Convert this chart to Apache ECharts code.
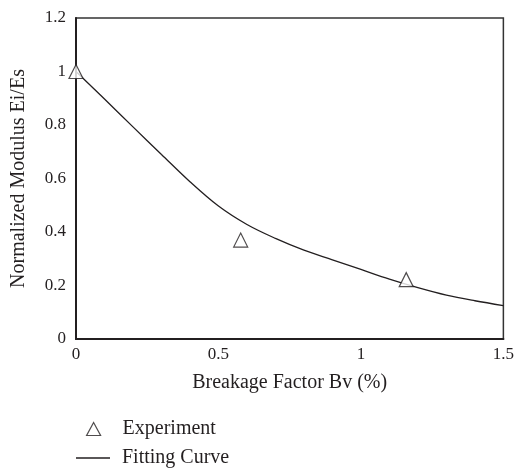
<!DOCTYPE html>
<html>
<head>
<meta charset="utf-8">
<script src="https://cdn.jsdelivr.net/npm/echarts@6/dist/echarts.min.js"></script>
<style>
  html, body { margin: 0; padding: 0; background: #fff; }
  #chart { width: 517px; height: 468px; }
</style>
</head>
<body>
<div id="chart"></div>
<script>
// Measured modulus ratio against particle breakage
const experimentBv = [0, 0.578, 1.159];
const experimentRatio = [1.0, 0.37, 0.222];

// Fitted relation
const curveBv = [0, 0.1, 0.2, 0.3, 0.4, 0.5, 0.6, 0.7, 0.8, 0.9, 1.0, 1.1, 1.2, 1.3, 1.4, 1.5];
const curveRatio = [1.0, 0.897, 0.793, 0.690, 0.588, 0.497, 0.428, 0.376, 0.332, 0.296, 0.260, 0.224, 0.192, 0.164, 0.143, 0.125];

const xTicks = { min: 0, max: 1.5, interval: 0.5 };
const yTicks = { min: 0, max: 1.2, interval: 0.2 };

const fontFamily = '"Liberation Serif", "DejaVu Serif", serif';
const ink = '#231f20';

const chart = echarts.init(document.getElementById('chart'), null, { renderer: 'canvas' });

const legendText = { fontFamily: fontFamily, fontSize: 20, color: ink };

chart.setOption({
  animation: false,
  backgroundColor: '#ffffff',
  textStyle: { fontFamily: fontFamily, color: ink },
  grid: { left: 76, right: 13, top: 18, bottom: 129, show: true, borderColor: '#333', borderWidth: 1.5, backgroundColor: 'transparent' },
  xAxis: {
    type: 'value',
    min: xTicks.min, max: xTicks.max, interval: xTicks.interval,
    name: 'Breakage Factor Bv (%)',
    nameLocation: 'middle',
    nameGap: 34,
    nameTextStyle: { fontFamily: fontFamily, fontSize: 20, color: ink },
    axisLine: { show: true, onZero: false, lineStyle: { color: ink, width: 2 } },
    axisTick: { show: false },
    splitLine: { show: false },
    axisLabel: { fontFamily: fontFamily, fontSize: 17, color: ink, margin: 7,
      formatter: v => String(+v.toFixed(1)) }
  },
  yAxis: {
    type: 'value',
    min: yTicks.min, max: yTicks.max, interval: yTicks.interval,
    name: 'Normalized Modulus Ei/Es',
    nameLocation: 'middle',
    nameGap: 47,
    nameTextStyle: { fontFamily: fontFamily, fontSize: 20, color: ink },
    axisLine: { show: true, onZero: false, lineStyle: { color: ink, width: 2 } },
    axisTick: { show: false },
    splitLine: { show: false },
    axisLabel: { fontFamily: fontFamily, fontSize: 17, color: ink, margin: 10,
      formatter: v => String(+v.toFixed(1)) }
  },
  legend: [
    {
      left: 86,
      top: 419,
      padding: 0,
      itemWidth: 14,
      itemHeight: 13,
      data: [{ name: 'Experiment', icon: 'triangle' }],
      itemStyle: { color: '#ffffff', borderColor: ink, borderWidth: 1.2 },
      textStyle: Object.assign({ padding: [0, 0, 0, 17] }, legendText)
    },
    {
      left: 76,
      top: 448,
      padding: 0,
      itemWidth: 34,
      itemHeight: 1.5,
      data: [{ name: 'Fitting Curve', icon: 'rect' }],
      textStyle: Object.assign({ padding: [0, 0, 0, 7] }, legendText)
    }
  ],
  series: [
    {
      name: 'Fitting Curve',
      type: 'line',
      data: curveBv.map((x, i) => [x, curveRatio[i]]),
      symbol: 'none',
      smooth: 0.35,
      lineStyle: { color: ink, width: 1.3 },
      itemStyle: { color: ink },
      z: 2
    },
    {
      name: 'Experiment',
      type: 'scatter',
      data: experimentBv.map((x, i) => [x, experimentRatio[i]]),
      symbol: 'triangle',
      symbolSize: [14, 14],
      itemStyle: { color: '#ffffff', borderColor: ink, borderWidth: 1.2 },
      clip: false,
      z: 3
    }
  ]
});
</script>
</body>
</html>
